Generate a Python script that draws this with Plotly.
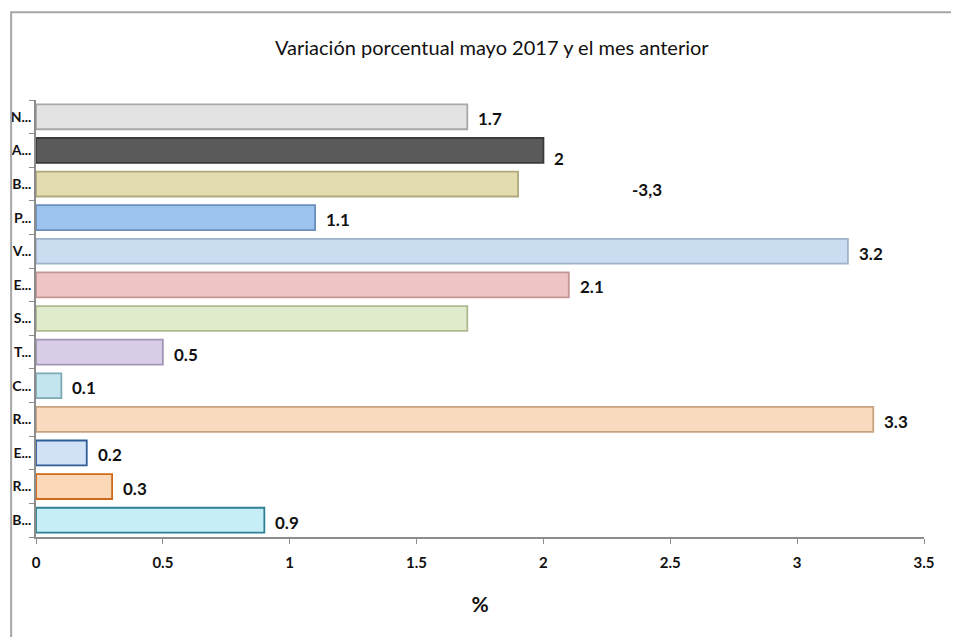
import plotly.graph_objects as go

# Data (top to bottom as shown)
labels = ["N...", "A...", "B...", "P...", "V...", "E...", "S...", "T...", "C...", "R...", "E...", "R...", "B..."]
values = [1.7, 2.0, 1.9, 1.1, 3.2, 2.1, 1.7, 0.5, 0.1, 3.3, 0.2, 0.3, 0.9]
value_text = ["1.7", "2", "", "1.1", "3.2", "2.1", "", "0.5", "0.1", "3.3", "0.2", "0.3", "0.9"]
stray_label = "-3,3"
x_ticks = [0, 0.5, 1, 1.5, 2, 2.5, 3, 3.5]
x_tick_text = ["0", "0.5", "1", "1.5", "2", "2.5", "3", "3.5"]

fills = ["#e3e3e3", "#5a5a5a", "#e2dcb0", "#9cc2ee", "#c9dcf0", "#eec5c5", "#e0ebcb",
         "#d8cde6", "#c3e6ee", "#fadbbf", "#d2e2f6", "#fbd8b8", "#c7eef7"]
borders = ["#a8a8a8", "#3a3a3a", "#b0a97e", "#6a8fbf", "#9fb3cc", "#c49595", "#aeb98f",
           "#a295b5", "#7fa9b5", "#c9a27f", "#2f5d96", "#d0691a", "#2f7f96"]

FONT = "Lato, 'Open Sans', sans-serif"
pos = list(range(len(labels)))

fig = go.Figure()
fig.add_trace(go.Bar(
    x=values, y=pos, orientation="h", width=0.74,
    marker=dict(color=fills, line=dict(color=borders, width=1.8)),
    hoverinfo="x",
))

annotations = []
for i, (v, t) in enumerate(zip(values, value_text)):
    if t:
        annotations.append(dict(x=v, y=i, xref="x", yref="y", text="<b>%s</b>" % t,
                                showarrow=False, xanchor="left", xshift=9,
                                yshift=-8 if t == "2" else -2,
                                font=dict(family=FONT, size=17, color="#111")))
# stray label placed as in the original
annotations.append(dict(x=2.34, y=2.15, xref="x", yref="y", text="<b>%s</b>" % stray_label,
                        showarrow=False, xanchor="left",
                        font=dict(family=FONT, size=17, color="#111")))
annotations.append(dict(x=0.514, y=1.121, xref="paper", yref="paper",
                        text="Variación porcentual mayo 2017 y el mes anterior",
                        showarrow=False, xanchor="center", yanchor="middle",
                        font=dict(family=FONT, size=20, color="#111")))

fig.update_layout(
    width=959, height=637,
    margin=dict(l=28, r=43, t=92, b=108),
    paper_bgcolor="white", plot_bgcolor="white",
    showlegend=False,
    annotations=annotations,
    font=dict(family=FONT, color="#111"),
    shapes=[dict(type="path", xref="paper", yref="paper",
                 path="M -0.028,-0.25 L -0.028,1.201 L 1.045,1.201",
                 line=dict(color="#a6a6a6", width=2))],
)
fig.update_xaxes(
    range=[0, 3.5], tickvals=x_ticks, ticktext=["<b>%s</b>" % t for t in x_tick_text],
    showgrid=False, zeroline=False, showline=True, linecolor="#8c8c8c", linewidth=1.5,
    ticks="outside", ticklen=5, tickcolor="#8c8c8c", ticklabelstandoff=6,
    tickfont=dict(family=FONT, size=15, color="#111"),
    title=dict(text="<b>%</b>", font=dict(family=FONT, size=21, color="#111"), standoff=28),
    automargin=False, fixedrange=True,
)
fig.update_yaxes(
    range=[len(labels) - 0.5, -0.5],
    tickvals=pos, ticktext=["<b>%s</b>" % t for t in labels],
    showgrid=False, zeroline=False, showline=True, linecolor="#8c8c8c", linewidth=1.5,
    ticks="", ticklen=0,
    minor=dict(tickvals=[i - 0.5 for i in range(len(labels) + 1)], ticks="outside",
               ticklen=5, tickcolor="#8c8c8c", showgrid=False),
    tickfont=dict(family=FONT, size=14, color="#111"),
    automargin=False, fixedrange=True,
)

fig.write_html("out.html")
